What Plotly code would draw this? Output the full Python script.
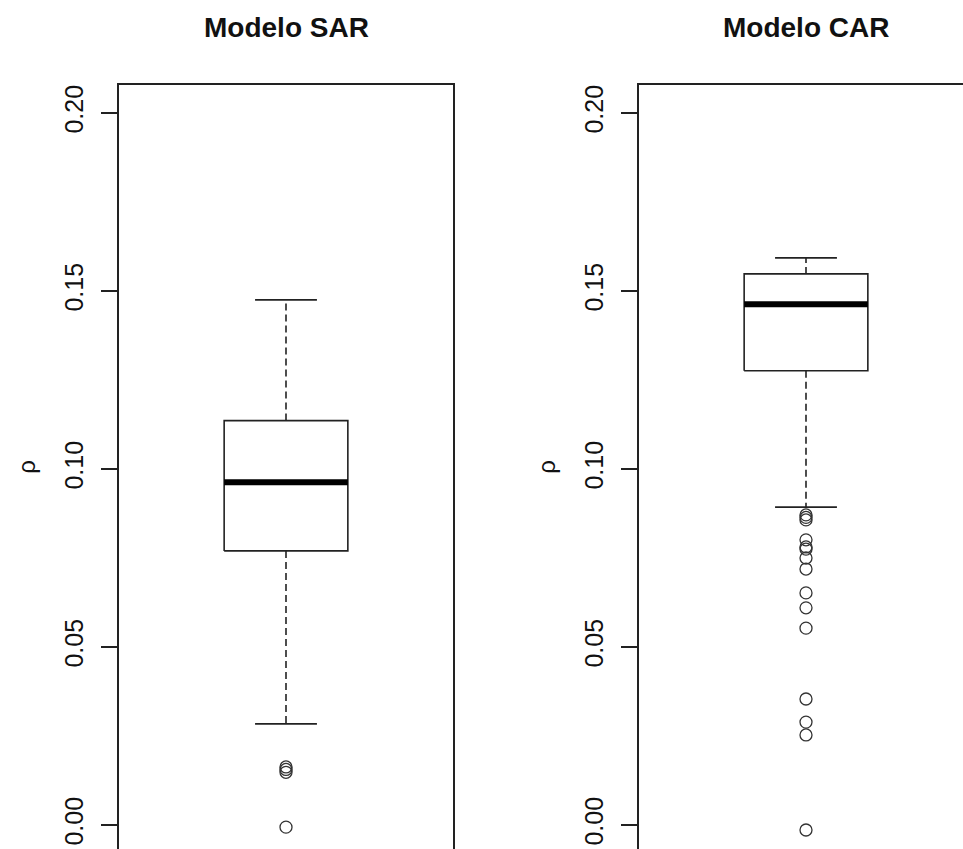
import plotly.graph_objects as go

# ---- data ----
panel_titles = ["Modelo SAR", "Modelo CAR"]
# five-number summaries: lower whisker, Q1, median, Q3, upper whisker
sar_stats = [0.0284, 0.0770, 0.0963, 0.1136, 0.1475]
car_stats = [0.0893, 0.1276, 0.1463, 0.1548, 0.1593]
sar_outliers = [0.0163, 0.0156, 0.0148, -0.0006]
car_outliers = [0.0871, 0.0864, 0.0857, 0.0801, 0.0781, 0.0775, 0.0750,
                0.0719, 0.0652, 0.0610, 0.0553, 0.0354, 0.0289, 0.0253, -0.0014]
y_ticks = [0.00, 0.05, 0.10, 0.15, 0.20]
y_label = "ρ"

# ---- layout constants ----
W, H = 963, 849
POS = 1.0          # box position
HALF = 0.2         # half box width
STAPLE = 0.1       # half staple width
LINE = "#222222"
FONT = "Liberation Sans, Arial, sans-serif"

fig = go.Figure()


def add_box(stats, outliers, xa, ya):
    lo, q1, med, q3, hi = stats
    # whiskers (dashed)
    fig.add_trace(go.Scatter(x=[POS, POS, None, POS, POS], y=[q3, hi, None, q1, lo],
                             mode="lines", line=dict(color=LINE, width=1.6, dash="7px,4px"),
                             xaxis=xa, yaxis=ya, showlegend=False, hoverinfo="skip"))
    # staples
    fig.add_trace(go.Scatter(x=[POS - STAPLE, POS + STAPLE, None, POS - STAPLE, POS + STAPLE],
                             y=[hi, hi, None, lo, lo],
                             mode="lines", line=dict(color=LINE, width=1.6),
                             xaxis=xa, yaxis=ya, showlegend=False, hoverinfo="skip"))
    # box
    fig.add_trace(go.Scatter(x=[POS - HALF, POS + HALF, POS + HALF, POS - HALF, POS - HALF],
                             y=[q1, q1, q3, q3, q1], mode="lines", fill="toself",
                             fillcolor="white", line=dict(color=LINE, width=1.6),
                             xaxis=xa, yaxis=ya, showlegend=False, hoverinfo="skip"))
    # median
    fig.add_trace(go.Scatter(x=[POS - HALF, POS + HALF], y=[med, med], mode="lines",
                             line=dict(color="black", width=6),
                             xaxis=xa, yaxis=ya, showlegend=False, hoverinfo="skip"))
    # outliers
    fig.add_trace(go.Scatter(x=[POS] * len(outliers), y=outliers, mode="markers",
                             marker=dict(symbol="circle-open", size=12,
                                         line=dict(color="#333333", width=1.3),
                                         color="#333333"),
                             xaxis=xa, yaxis=ya, showlegend=False, hoverinfo="skip"))


add_box(sar_stats, sar_outliers, "x", "y")
add_box(car_stats, car_outliers, "x2", "y2")

# pixel geometry
L1, R1 = 119, 453
L2, R2 = 639, 973
TOP = 85
y0_px, per_unit = 825, 3560.0
y_range = [(y0_px - H) / per_unit, (y0_px - TOP) / per_unit]
x_lo, x_span = 0.46, 1.08
x_range1 = [x_lo, x_lo + x_span]
x_range2 = [x_lo, x_lo + x_span * (W - L2) / (R2 - L2)]

yaxis_common = dict(range=y_range, tickvals=y_ticks, ticktext=[f"{v:.2f}" for v in y_ticks],
                    tickangle=-90, ticks="outside", ticklen=16, tickwidth=1.5, tickcolor=LINE,
                    ticklabelstandoff=8,
                    showline=True, linecolor=LINE, linewidth=1.6, showgrid=False, zeroline=False,
                    tickfont=dict(family=FONT, size=25, color="#111111"),
                    domain=[0, 1 - TOP / H],
                    title=dict(text=y_label, font=dict(family=FONT, size=24, color="#111111"),
                               standoff=18))

fig.update_layout(
    width=W, height=H, margin=dict(l=0, r=0, t=0, b=0),
    plot_bgcolor="white", paper_bgcolor="white",
    xaxis=dict(domain=[L1 / W, R1 / W], range=x_range1, showticklabels=False, ticks="",
               showline=True, mirror=True, linecolor=LINE, linewidth=1.6, showgrid=False,
               zeroline=False),
    xaxis2=dict(domain=[L2 / W, 1.0], range=x_range2, showticklabels=False, ticks="",
                showline=True, mirror=True, linecolor=LINE, linewidth=1.6, showgrid=False,
                zeroline=False, anchor="y2"),
    yaxis=dict(yaxis_common, mirror=True, anchor="x"),
    yaxis2=dict(yaxis_common, anchor="x2"),
)

for title, (l, r) in zip(panel_titles, [(L1, R1), (L2, R2)]):
    fig.add_annotation(text=f"<b>{title}</b>", xref="paper", yref="paper",
                       x=(l + r) / 2 / W, y=1 - 27 / H, showarrow=False,
                       xanchor="center", yanchor="middle",
                       font=dict(family=FONT, size=28, color="#111111"))

fig.write_html("out.html", config={"displayModeBar": False},
               post_script="document.body.style.margin='0';document.body.style.overflow='hidden';")
